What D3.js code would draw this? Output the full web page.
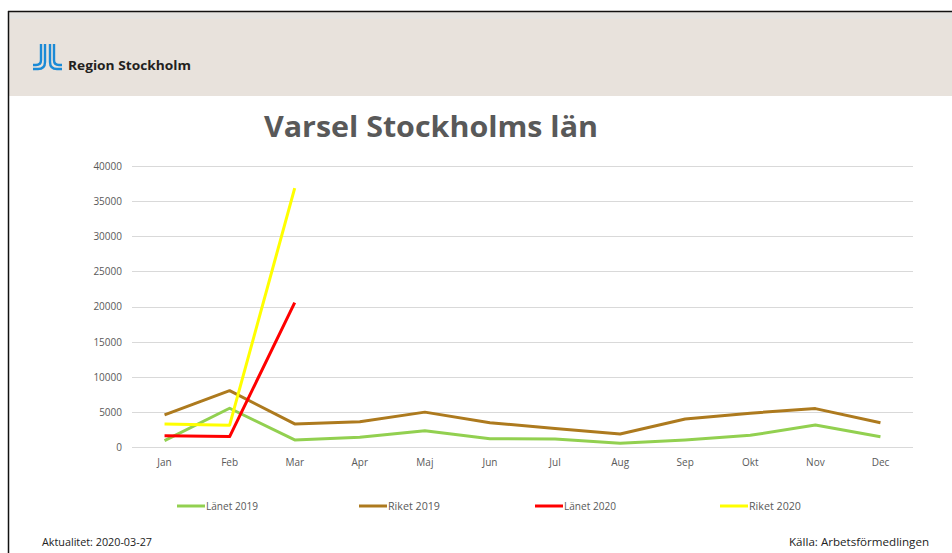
<!DOCTYPE html>
<html>
<head>
<meta charset="utf-8">
<script src="https://cdn.jsdelivr.net/npm/d3@7"></script>
<style>
  body { margin: 0; background: #fff; }
  svg { display: block; }
</style>
</head>
<body>
<div id="chart"></div>
<script>
// Data
var months = ["Jan", "Feb", "Mar", "Apr", "Maj", "Jun", "Jul", "Aug", "Sep", "Okt", "Nov", "Dec"];
var lanet2019 = [950, 5550, 1050, 1420, 2350, 1230, 1190, 560, 1040, 1700, 3180, 1500];
var riket2019 = [4600, 8050, 3320, 3640, 5000, 3500, 2660, 1880, 4030, 4850, 5500, 3500];
var lanet2020 = [1650, 1520, 20560];
var riket2020 = [3320, 3140, 36850];
var yTicks = [0, 5000, 10000, 15000, 20000, 25000, 30000, 35000, 40000];

var seriesNames = ["Länet 2019", "Riket 2019", "Länet 2020", "Riket 2020"];
var seriesColors = ["#92d050", "#ad7a1e", "#ff0000", "#ffff00"];
var seriesValues = [lanet2019, riket2019, lanet2020, riket2020];

var width = 952, height = 553;

var svg = d3.select("#chart").append("svg")
    .attr("width", width)
    .attr("height", height);

// Header band
svg.append("rect")
    .attr("x", 9).attr("y", 11)
    .attr("width", width - 9).attr("height", 85)
    .attr("fill", "#e8e2dc");
svg.append("rect")
    .attr("x", 9).attr("y", 11)
    .attr("width", width - 9).attr("height", 8)
    .attr("fill", "#e4e3e1");

// Frame lines
svg.append("line")
    .attr("x1", 8).attr("x2", width).attr("y1", 11.5).attr("y2", 11.5)
    .attr("stroke", "#111").attr("stroke-width", 1.5);
svg.append("line")
    .attr("x1", 8.5).attr("x2", 8.5).attr("y1", 11).attr("y2", height)
    .attr("stroke", "#111").attr("stroke-width", 1.5);

// Logo
var logo = svg.append("g")
    .attr("fill", "none")
    .attr("stroke", "#1b8ad6")
    .attr("stroke-width", 2.4);
logo.append("path").attr("d", "M41,44 V60 Q41,65 36,65 H33");
logo.append("path").attr("d", "M45,44 V62 Q45,69 38,69 H33");
logo.append("path").attr("d", "M50,44 V62 Q50,69 57,69 H62");
logo.append("path").attr("d", "M54,44 V60 Q54,65 59,65 H62");

svg.append("text")
    .attr("x", 68).attr("y", 70)
    .attr("font-family", "Open Sans, sans-serif")
    .attr("font-weight", "bold")
    .attr("font-size", 13)
    .attr("fill", "#231f20")
    .attr("textLength", 123)
    .attr("lengthAdjust", "spacingAndGlyphs")
    .text("Region Stockholm");

// Title
svg.append("text")
    .attr("x", 264).attr("y", 137)
    .attr("font-family", "Open Sans, sans-serif")
    .attr("font-weight", "bold")
    .attr("font-size", 29)
    .attr("fill", "#595959")
    .attr("textLength", 334)
    .attr("lengthAdjust", "spacingAndGlyphs")
    .text("Varsel Stockholms län");

// Scales
var x = d3.scaleBand().domain(months).range([132, 913]);
var y = d3.scaleLinear().domain([0, 40000]).range([447.3, 166]);

// Gridlines
svg.append("g")
    .selectAll("line")
    .data(yTicks)
    .enter().append("line")
    .attr("x1", 132).attr("x2", 913)
    .attr("y1", function(d) { return Math.round(y(d)) + 0.5; })
    .attr("y2", function(d) { return Math.round(y(d)) + 0.5; })
    .attr("stroke", "#d9d9d9")
    .attr("stroke-width", 1);

// Y axis labels
var yAxis = svg.append("g")
    .attr("transform", "translate(122,0)")
    .call(d3.axisLeft(y).tickValues(yTicks).tickSize(0).tickPadding(0).tickFormat(d3.format("d")));
yAxis.select(".domain").remove();
yAxis.selectAll("text")
    .attr("font-family", "Open Sans, sans-serif")
    .attr("font-size", 10)
    .attr("fill", "#595959");

// X axis labels
var xAxis = svg.append("g")
    .attr("transform", "translate(0,459)")
    .call(d3.axisBottom(x).tickSize(0).tickPadding(0));
xAxis.select(".domain").remove();
xAxis.selectAll("text")
    .attr("font-family", "Open Sans, sans-serif")
    .attr("font-size", 10)
    .attr("fill", "#595959");

// Lines
var line = d3.line()
    .x(function(d, i) { return x(months[i]) + x.bandwidth() / 2; })
    .y(function(d) { return y(d); });

seriesValues.forEach(function(vals, i) {
    svg.append("path")
        .datum(vals)
        .attr("fill", "none")
        .attr("stroke", seriesColors[i])
        .attr("stroke-width", 3)
        .attr("stroke-linejoin", "round")
        .attr("d", line);
});

// Legend
var legendX = [177, 359, 535, 720];
var legend = svg.append("g").selectAll("g")
    .data(seriesNames)
    .enter().append("g")
    .attr("transform", function(d, i) { return "translate(" + legendX[i] + ",506)"; });
legend.append("line")
    .attr("x1", 0).attr("x2", 28)
    .attr("stroke", function(d, i) { return seriesColors[i]; })
    .attr("stroke-width", 3);
legend.append("text")
    .attr("x", 29).attr("y", 3.5)
    .attr("font-family", "Open Sans, sans-serif")
    .attr("font-size", 10)
    .attr("fill", "#595959")
    .attr("textLength", 52)
    .attr("lengthAdjust", "spacingAndGlyphs")
    .text(function(d) { return d; });

// Footer
svg.append("text")
    .attr("x", 42).attr("y", 546)
    .attr("font-family", "Open Sans, sans-serif")
    .attr("font-size", 11)
    .attr("fill", "#222")
    .attr("textLength", 110)
    .attr("lengthAdjust", "spacingAndGlyphs")
    .text("Aktualitet: 2020-03-27");
svg.append("text")
    .attr("x", 929).attr("y", 546)
    .attr("text-anchor", "end")
    .attr("font-family", "Open Sans, sans-serif")
    .attr("font-size", 11)
    .attr("fill", "#222")
    .attr("textLength", 140)
    .attr("lengthAdjust", "spacingAndGlyphs")
    .text("Källa: Arbetsförmedlingen");
</script>
</body>
</html>
